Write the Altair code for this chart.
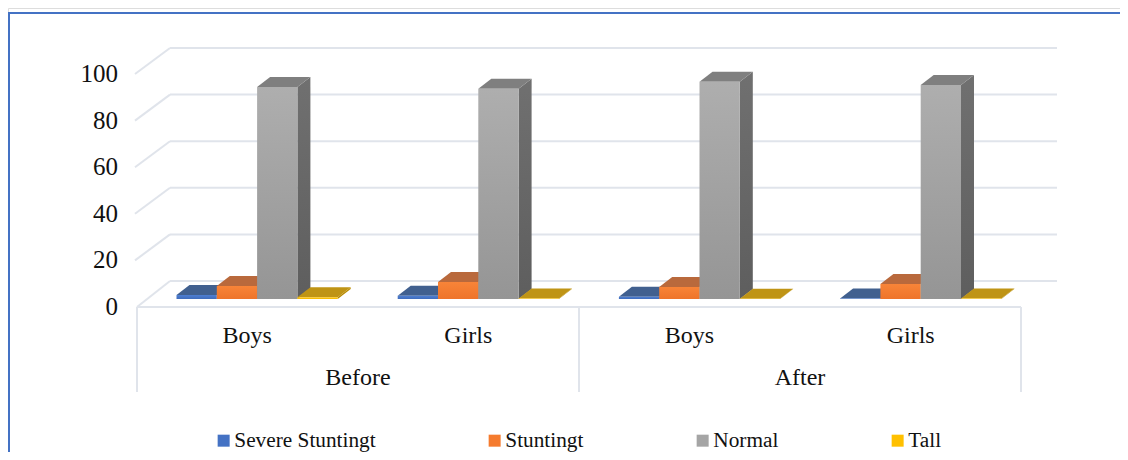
import altair as alt
import pandas as pd

# ---- values ----
periods = ["Before", "After"]
groups = ["Boys", "Girls", "Boys", "Girls"]
series = ["Severe Stuntingt", "Stuntingt", "Normal", "Tall"]
severe = [1.7, 1.4, 1.0, 0.2]
stunting = [5.6, 7.3, 5.2, 6.4]
normal = [91.0, 90.2, 93.2, 91.8]
tall = [0.8, 0.2, 0.1, 0.2]
ticks = [0, 20, 40, 60, 80, 100]
values = [severe, stunting, normal, tall]

front_top = ["#4F7FD2", "#F88438", "#AEAEAE", "#FFC81A"]
front_bot = ["#3F6CBC", "#EE742A", "#959595", "#F5B800"]
top_col = ["#41608F", "#B9693C", "#7F7F7F", "#BF9415"]
side_top = ["#34558F", "#B05A28", "#707070", "#BF9000"]
side_bot = ["#2F4D85", "#A55020", "#5E5E5E", "#B08400"]
legend_col = ["#4472C4", "#F57B2E", "#A5A5A5", "#FFC000"]

# ---- layout constants (page pixels are chart pixels + 8) ----
W, H = 1112, 444
PX_PER_UNIT = 2.33
BASE_PY = 299 - 8          # chart pixel row of value 0 on the bars' plane


def yv(py_page):
    return (BASE_PY - (py_page - 8)) / PX_PER_UNIT


Y_DOMAIN = [yv(8 + H), yv(8)]
BAR_W = 40.3
GROUP_STEP = 221.2
X0 = 176.5 - 8
DEPTH_X, DEPTH_V = 13, 10 / PX_PER_UNIT

xs = alt.Scale(domain=[0, W], range=[0, W], nice=False, zero=False)
ys = alt.Scale(domain=Y_DOMAIN, range=[H, 0], nice=False, zero=False)
X = alt.X("x:Q", scale=xs, axis=None, stack=None)
Y = alt.Y("y:Q", scale=ys, axis=None, stack=None)
X2 = alt.X2("x2:Q")
Y2 = alt.Y2("y2:Q")

GRID = "#E0E4EB"
layers = []

# ---- wall grid lines and the slanted floor / side-wall lines ----
BACK_OFF = yv(281)
FRONT_L, BACK_L, BACK_R, FRONT_R = 137 - 8, 170 - 8, 1057 - 8, 1021 - 8
FLOOR_FRONT = yv(307)
grid = pd.DataFrame(
    [{"x": BACK_L, "x2": BACK_R, "y": t + BACK_OFF} for t in ticks]
)
layers.append(alt.Chart(grid).mark_rule(color=GRID, strokeWidth=2).encode(x=X, x2=X2, y=Y))
slant = []
for t in ticks:
    slant.append({"x": FRONT_L - (2 if t else 0), "y": t + FLOOR_FRONT, "d": t})
    slant.append({"x": BACK_L, "y": t + BACK_OFF, "d": t})
layers.append(
    alt.Chart(pd.DataFrame(slant)).mark_line(color=GRID, strokeWidth=2).encode(x=X, y=Y, detail="d:N")
)

# ---- multi-level category frame ----
floor = pd.DataFrame([{"x": FRONT_L, "x2": FRONT_R, "y": FLOOR_FRONT}])
layers.append(alt.Chart(floor).mark_rule(color=GRID, strokeWidth=2).encode(x=X, x2=X2, y=Y))
verts = pd.DataFrame(
    [{"x": vx, "y": FLOOR_FRONT, "y2": yv(392)} for vx in (FRONT_L, (FRONT_L + FRONT_R) / 2, FRONT_R)]
)
layers.append(alt.Chart(verts).mark_rule(color=GRID, strokeWidth=2).encode(x=X, y=Y, y2=Y2))

# ---- 3-D columns, painted left to right ----
legend_rows = []
for s, name in enumerate(series):
    side, top, front = [], [], []
    for g, v in enumerate(values[s]):
        xl = X0 + g * GROUP_STEP + s * BAR_W
        xr = xl + BAR_W
        side += [
            {"x": xr, "y": 0, "y2": v, "d": g},
            {"x": xr + DEPTH_X, "y": DEPTH_V, "y2": v + DEPTH_V, "d": g},
        ]
        top += [
            {"x": xl, "x2": xr, "y": v, "d": g},
            {"x": xl + DEPTH_X, "x2": xr + DEPTH_X, "y": v + DEPTH_V, "d": g},
        ]
        front.append({"x": xl, "x2": xr, "y": 0, "y2": v})
        legend_rows.append({"x": xl, "x2": xr, "y": 0, "y2": v, "series": name})
    layers.append(
        alt.Chart(pd.DataFrame(side))
        .mark_area(
            orient="vertical",
            color=alt.Gradient(
                gradient="linear", x1=0, y1=0, x2=0, y2=1,
                stops=[alt.GradientStop(color=side_top[s], offset=0), alt.GradientStop(color=side_bot[s], offset=1)],
            ),
        )
        .encode(x=X, y=Y, y2=Y2, detail="d:N")
    )
    layers.append(
        alt.Chart(pd.DataFrame(top))
        .mark_area(orient="horizontal", color=top_col[s])
        .encode(x=X, x2=X2, y=Y, detail="d:N")
    )
    layers.append(
        alt.Chart(pd.DataFrame(front))
        .mark_rect(
            color=alt.Gradient(
                gradient="linear", x1=0, y1=0, x2=0, y2=1,
                stops=[alt.GradientStop(color=front_top[s], offset=0), alt.GradientStop(color=front_bot[s], offset=1)],
            )
        )
        .encode(x=X, x2=X2, y=Y, y2=Y2)
    )

# ---- legend comes from an invisible copy of the front faces ----
layers.append(
    alt.Chart(pd.DataFrame(legend_rows))
    .mark_rect(opacity=0)
    .encode(
        x=X, x2=X2, y=Y, y2=Y2,
        color=alt.Color(
            "series:N",
            scale=alt.Scale(domain=series, range=legend_col),
            legend=alt.Legend(
                orient="none", legendX=205, legendY=422, direction="horizontal",
                columns=4, title=None, symbolType="square", symbolSize=144,
                symbolOpacity=1, symbolStrokeWidth=0,
                labelFont="Liberation Serif", labelFontSize=21.3, labelColor="#111111",
                labelOffset=0, columnPadding=108, labelLimit=300,
            ),
        ),
    )
)

# ---- text ----
serif = dict(font="Liberation Serif", color="#111111", baseline="middle")
tick_df = pd.DataFrame([{"x": 118 - 8, "y": t + yv(307), "t": str(t)} for t in ticks])
layers.append(alt.Chart(tick_df).mark_text(align="right", fontSize=25, **serif).encode(x=X, y=Y, text="t:N"))
cat_df = pd.DataFrame(
    [{"x": X0 + g * GROUP_STEP + 2 * BAR_W - 10, "y": yv(336), "t": n} for g, n in enumerate(groups)]
)
layers.append(alt.Chart(cat_df).mark_text(align="center", fontSize=24, **serif).encode(x=X, y=Y, text="t:N"))
per_df = pd.DataFrame(
    [{"x": FRONT_L + (FRONT_R - FRONT_L) * (p + 0.5) / 2, "y": yv(378), "t": n} for p, n in enumerate(periods)]
)
layers.append(alt.Chart(per_df).mark_text(align="center", fontSize=24, **serif).encode(x=X, y=Y, text="t:N"))

# ---- outer blue frame (top and left edges only) ----
BLUE = "#4472C4"
layers.append(
    alt.Chart(pd.DataFrame([{"x": 0, "x2": W, "y": yv(13)}]))
    .mark_rule(color=BLUE, strokeWidth=2)
    .encode(x=X, x2=X2, y=Y)
)
layers.append(
    alt.Chart(pd.DataFrame([{"x": 1, "y": yv(12), "y2": Y_DOMAIN[0]}]))
    .mark_rule(color=BLUE, strokeWidth=2)
    .encode(x=X, y=Y, y2=Y2)
)

chart = (
    alt.layer(*layers)
    .properties(width=W, height=H, padding=0, autosize=alt.AutoSizeParams(type="none"))
    .configure_view(stroke=None)
    .configure(background="white")
)
chart.save("out.html", embed_options={"renderer": "svg", "actions": False})
